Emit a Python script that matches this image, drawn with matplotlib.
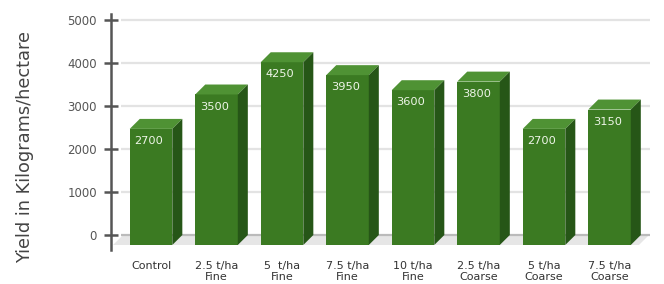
import numpy as np
import matplotlib.pyplot as plt
from matplotlib.patches import Polygon

plt.rcParams['font.family'] = ['DejaVu Sans']

categories = ['Control', '2.5 t/ha\nFine', '5  t/ha\nFine', '7.5 t/ha\nFine',
              '10 t/ha\nFine', '2.5 t/ha\nCoarse', '5 t/ha\nCoarse', '7.5 t/ha\nCoarse']
yields = [2700, 3500, 4250, 3950, 3600, 3800, 2700, 3150]
yticks = [0, 1000, 2000, 3000, 4000, 5000]

# colours of the 3D faces
front_col = '#3b7a22'
top_col = '#4f9234'
side_col = '#265617'

fig = plt.figure(figsize=(6.64, 2.84), dpi=100)
ax = fig.add_axes([100 / 664, 29 / 284, 560 / 664, 245 / 284])
ax.set_xlim(-0.779, 7.771)
ax.set_ylim(-465, 5233)

x = np.arange(len(yields))
w = 0.65
dx = 0.153   # depth in x units
dy = 232     # depth in y units

# back grid lines
for t in yticks:
    ax.plot([-0.61 + dx, 7.62], [t, t], color='#bbbbbb' if t == 0 else '#e3e3e3',
            lw=1.6, zorder=1, solid_capstyle='butt')

# floor
floor = Polygon([(-0.58, -dy), (7.45, -dy), (7.45 + dx, 0), (-0.58 + dx, 0)],
                closed=True, facecolor='#e6e6e6', edgecolor='none', zorder=0.5)
ax.add_patch(floor)

# front faces
ax.bar(x, yields, width=w, bottom=-dy, color=front_col, zorder=3, linewidth=0)
for xi, v in zip(x, yields):
    l, r = xi - w / 2, xi + w / 2
    top = Polygon([(l, v - dy), (r, v - dy), (r + dx, v), (l + dx, v)],
                  closed=True, facecolor=top_col, edgecolor='none', zorder=3)
    side = Polygon([(r, -dy), (r, v - dy), (r + dx, v), (r + dx, 0)],
                   closed=True, facecolor=side_col, edgecolor='none', zorder=3)
    ax.add_patch(top)
    ax.add_patch(side)
    ax.text(l + 0.07, v - dy - 280, str(v), color='#eef5e8', fontsize=8.2,
            ha='left', va='center', zorder=4)

for s in ['top', 'right', 'bottom']:
    ax.spines[s].set_visible(False)
ax.spines['left'].set_position(('data', -0.611))
ax.spines['left'].set_bounds(-350, 5130)
ax.spines['left'].set_color('#555555')
ax.spines['left'].set_linewidth(1.8)

ax.set_yticks(yticks)
ax.set_yticklabels([str(t) for t in yticks])
ax.tick_params(axis='y', direction='inout', length=10, width=1.8, color='#555555',
               labelsize=8.5, labelcolor='#555555', pad=5)
ax.set_xticks(x)
ax.set_xticklabels(categories, linespacing=1.15)
ax.tick_params(axis='x', length=0, labelsize=8, labelcolor='#333333', pad=4)

fig.text(25 / 664, 0.482, 'Yield in Kilograms/hectare', rotation=90, fontsize=12.8,
         color='#444444', ha='center', va='center')

fig.savefig('out.png', dpi=100)
